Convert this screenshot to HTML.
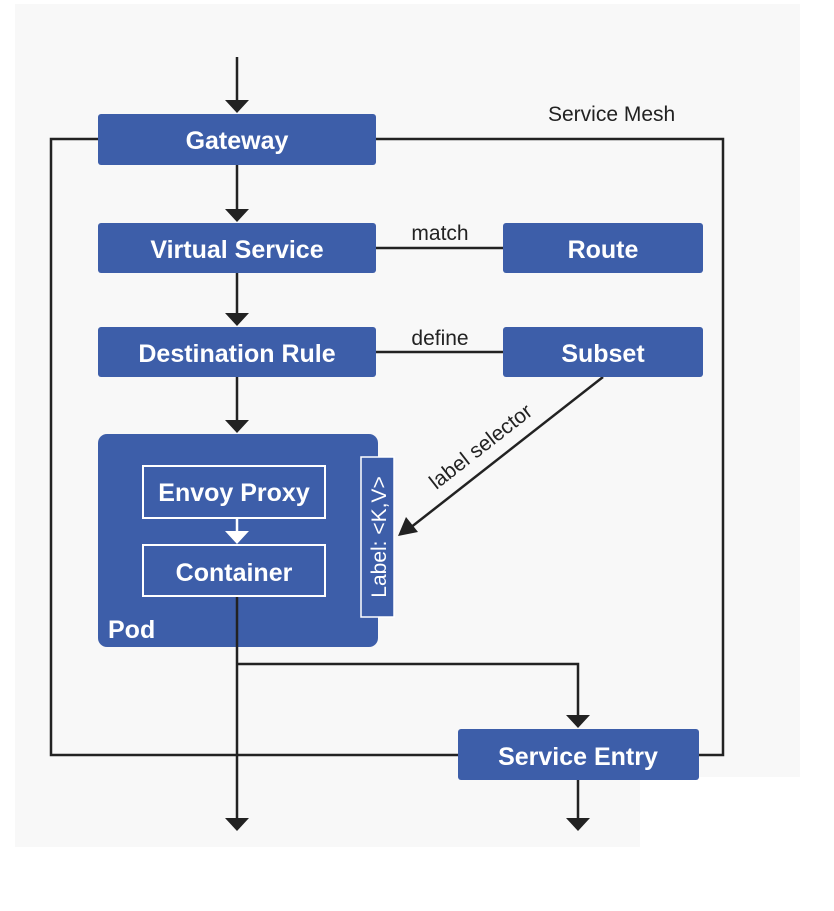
<!DOCTYPE html>
<html><head><style>
body{margin:0;width:834px;height:906px;background:#fff;overflow:hidden}
</style></head><body>
<svg width="834" height="906" xmlns="http://www.w3.org/2000/svg" font-family="Liberation Sans, sans-serif">
<rect x="15" y="4" width="785" height="843" fill="#f8f8f8"/>
<rect x="640" y="777" width="194" height="129" fill="#fff"/>
<g stroke="#222" stroke-width="2.5" fill="none">
<polyline points="98,139 51,139 51,755 458,755"/>
<polyline points="376,139 723,139 723,755 699,755"/>
<line x1="376" y1="248" x2="503" y2="248"/>
<line x1="376" y1="352" x2="503" y2="352"/>
<polyline points="237,664 578,664 578,716"/>
<line x1="578" y1="780" x2="578" y2="818"/>
<line x1="237" y1="57" x2="237" y2="100"/>
<line x1="237" y1="165" x2="237" y2="210"/>
<line x1="237" y1="273" x2="237" y2="314"/>
<line x1="237" y1="377" x2="237" y2="420"/>
<line x1="603" y1="377" x2="410" y2="528"/>
</g>
<g fill="#222">
<path d="M225,100 L249,100 L237,113z"/>
<path d="M225,209 L249,209 L237,222z"/>
<path d="M225,313 L249,313 L237,326z"/>
<path d="M225,420 L249,420 L237,433z"/>
<path d="M566,715 L590,715 L578,728z"/>
<path d="M225,818 L249,818 L237,831z"/>
<path d="M566,818 L590,818 L578,831z"/>
<path d="M398,536 L406,517 L418,532z"/>
</g>
<g fill="#3d5ea9">
<rect x="98" y="114" width="278" height="51" rx="3"/>
<rect x="98" y="223" width="278" height="50" rx="3"/>
<rect x="503" y="223" width="200" height="50" rx="3"/>
<rect x="98" y="327" width="278" height="50" rx="3"/>
<rect x="503" y="327" width="200" height="50" rx="3"/>
<rect x="98" y="434" width="280" height="213" rx="9"/>
<rect x="458" y="729" width="241" height="51" rx="3"/>
</g>
<line x1="237" y1="596" x2="237" y2="818" stroke="#222" stroke-width="2.5"/>
<rect x="361" y="457" width="33" height="160" fill="#3d5ea9" stroke="#fff" stroke-width="1.5"/>
<rect x="143" y="466" width="182" height="52" fill="none" stroke="#fff" stroke-width="2"/>
<rect x="143" y="545" width="182" height="51" fill="none" stroke="#fff" stroke-width="2"/>
<line x1="237" y1="518" x2="237" y2="532" stroke="#fff" stroke-width="2.5"/>
<path d="M225,531 L249,531 L237,544z" fill="#fff"/>
<g fill="#fff" font-weight="bold" font-size="25" text-anchor="middle">
<text x="237" y="149">Gateway</text>
<text x="237" y="258">Virtual Service</text>
<text x="603" y="258">Route</text>
<text x="237" y="362">Destination Rule</text>
<text x="603" y="362">Subset</text>
<text x="234" y="501">Envoy Proxy</text>
<text x="234" y="581">Container</text>
<text x="578" y="765">Service Entry</text>
<text x="108" y="638" text-anchor="start">Pod</text>
<text transform="translate(386,537) rotate(-90)" font-weight="normal" font-size="21">Label: &lt;K,V&gt;</text>
</g>
<g fill="#222" font-size="21">
<text x="548" y="121">Service Mesh</text>
<text x="440" y="240" text-anchor="middle">match</text>
<text x="440" y="345" text-anchor="middle">define</text>
<text transform="translate(485,452) rotate(-38)" text-anchor="middle">label selector</text>
</g>
</svg>
</body></html>
